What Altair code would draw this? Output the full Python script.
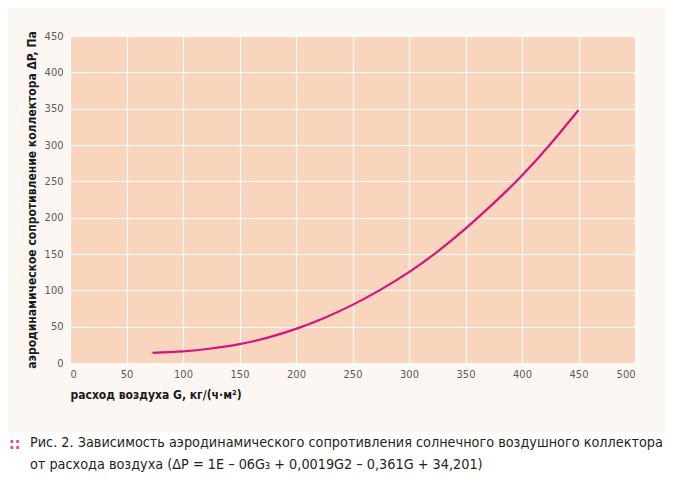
import altair as alt
import pandas as pd

# data
G = [73, 100, 125, 150, 175, 200, 225, 250, 275, 300, 325, 350, 375, 400, 425, 450]
dP = [14, 16, 20, 26, 35, 47, 62, 80, 101, 125, 153, 185, 220, 258, 301, 348]
x_ticks = list(range(0, 501, 50))
y_ticks = list(range(0, 451, 50))
x_title = "расход воздуха G, кг/(ч·м²)"
y_title = "аэродинамическое сопротивление коллектора ΔP, Па"
caption = [
    "Рис. 2. Зависимость аэродинамического сопротивления солнечного воздушного коллектора",
    "от расхода воздуха (ΔP = 1E – 06G₃ + 0,0019G2 – 0,361G + 34,201)",
]
bullet = ["::"]

W, H = 565, 327
NARROW = "DejaVu Sans Condensed"

df = pd.DataFrame({"G": G, "dP": dP})
one = pd.DataFrame({"t": bullet})
cap = pd.DataFrame({"t": ["\n".join(caption)]})

# white area under the cream panel (caption zone)
white_bottom = alt.Chart(one).mark_rect(color="white").encode(
    x=alt.value(-70), x2=alt.value(620), y=alt.value(396), y2=alt.value(460)
)

line = alt.Chart(df).mark_line(color="#d4157f", strokeWidth=2.2, interpolate="natural").encode(
    x=alt.X("G:Q", scale=alt.Scale(domain=[0, 500], nice=False),
            axis=alt.Axis(values=x_ticks, title=x_title, titleAnchor="start", titleAlign="left",
                          titlePadding=10)),
    y=alt.Y("dP:Q", scale=alt.Scale(domain=[0, 450], nice=False),
            axis=alt.Axis(values=y_ticks, title=y_title, titlePadding=6)),
)

dots = alt.Chart(one).mark_text(
    color="#e04a7a", fontSize=16, fontWeight="bold", align="left", baseline="middle", font=NARROW
).encode(x=alt.value(-61), y=alt.value(408), text="t:N")

cap_text = alt.Chart(cap).mark_text(
    color="#231f20", fontSize=14.3, fontWeight="normal", align="left", baseline="top",
    font=NARROW, lineBreak="\n", lineHeight=22
).encode(x=alt.value(-40), y=alt.value(400), text="t:N")

chart = alt.layer(white_bottom, line, dots, cap_text).properties(
    width=W, height=H,
    autosize=alt.AutoSizeParams(type="none"),
    padding={"left": 62, "top": 28, "right": 31, "bottom": 117},
    background="#fdf7f3",
).configure_view(fill="#f9d5bd", stroke=None).configure_axis(
    grid=True, gridColor="white", gridWidth=1.2, ticks=False, domain=False,
    labelFont=NARROW, labelFontSize=11, labelColor="#5a5a5a",
    titleFont=NARROW, titleFontSize=12, titleFontWeight="bold", titleColor="#1a1a1a",
).configure_axisX(labelPadding=5).configure_axisY(labelPadding=7)

chart.save("out.html", embed_options={"renderer": "svg", "actions": False})
